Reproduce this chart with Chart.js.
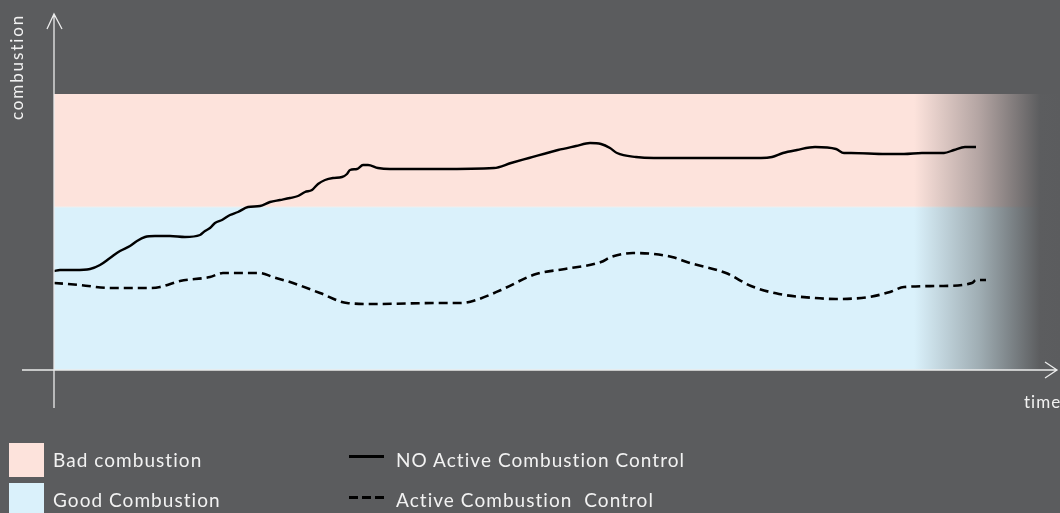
<!DOCTYPE html>
<html>
<head>
<meta charset="utf-8">
<script src="https://cdn.jsdelivr.net/npm/chart.js@4/dist/chart.umd.min.js"></script>
<style>
  html, body { margin: 0; padding: 0; background: #5b5c5e; }
  #wrap { position: relative; width: 1060px; height: 513px; overflow: hidden; background: #5b5c5e; font-family: "Lato", "Open Sans", sans-serif; color: #f2f2f2; }
  canvas { position: absolute; left: 0; top: 0; }
  .lbl { position: absolute; white-space: nowrap; font-size: 19px; line-height: 20px; letter-spacing: 1.05px; }
  .sw { position: absolute; width: 35px; height: 34px; }
  .ln { position: absolute; width: 35px; height: 3px; background: #000; }
</style>
</head>
<body>
<div id="wrap">
  <canvas id="c" width="1060" height="513"></canvas>
  <div class="lbl" id="ylab" style="left:-43px; top:57px; transform: rotate(-90deg); width:120px; text-align:center; font-size:17px; letter-spacing:1.9px;">combustion</div>
  <div class="lbl" style="left:1024px; top:392px; font-size:17px; letter-spacing:1px;">time</div>
  <div class="sw" style="left:9px; top:443px; background:#fde3dc;"></div>
  <div class="sw" style="left:9px; top:483px; height:40px; background:#daf1fb;"></div>
  <div class="lbl" style="left:53px; top:450px;">Bad combustion</div>
  <div class="lbl" style="left:53px; top:490px;">Good Combustion</div>
  <div class="ln" style="left:349px; top:455px;"></div>
  <div class="ln" style="left:349px; top:496px; background: repeating-linear-gradient(90deg, #000 0 9px, transparent 9px 13px);"></div>
  <div class="lbl" style="left:396px; top:450px;">NO Active Combustion Control</div>
  <div class="lbl" style="left:396px; top:490px;">Active Combustion&nbsp; Control</div>
</div>
<script>
// ---- Data (time in arbitrary units 0..1006, combustion in arbitrary units 0..355) ----
const bandTimes = [0, 1006];
const goodLimit = [163, 163];   // top of "Good combustion" zone
const badLimit = [276, 276];    // top of "Bad combustion" zone

const noControlTime = [0, 6, 21, 36, 46, 56, 66, 76, 83, 91, 101, 116, 131, 146, 151, 156, 161, 168, 176, 184, 194, 206, 216, 226, 236, 244, 251, 258, 264, 271, 279, 288, 293, 296, 303, 309, 314, 324, 336, 386, 440, 457, 475, 504, 522, 536, 547, 556, 563, 582, 600, 707, 718, 729, 743, 761, 782, 790, 797, 832, 850, 868, 890, 900, 911, 922];
const noControlValues = [99, 100, 100, 101, 105, 112, 119, 124, 129, 133, 134, 134, 133, 135, 139, 142, 147, 150, 155, 158, 163, 164, 168, 170, 172, 174, 178, 180, 186, 190, 192, 193, 196, 200, 201, 205, 205, 202, 201, 201, 202, 207, 212, 220, 224, 227, 226, 222, 217, 213, 212, 212, 213, 217, 220, 223, 221, 217, 217, 216, 216, 217, 217, 220, 223, 223];

const controlTime = [0, 26, 56, 96, 106, 126, 156, 169, 206, 219, 239, 266, 293, 319, 386, 407, 422, 447, 482, 511, 547, 557, 579, 600, 618, 636, 672, 697, 725, 761, 782, 815, 836, 850, 886, 918, 922, 932];
const controlValues = [87, 85, 82, 82, 83, 89, 93, 97, 97, 93, 87, 77, 67, 66, 67, 67, 70, 80, 96, 101, 108, 113, 117, 116, 113, 107, 97, 84, 76, 72, 71, 73, 78, 83, 84, 87, 90, 90];

function fadeGradient(ctx, color, mid) {
  const ch = ctx.chart; if (!ch.chartArea) return color;
  const xs = ch.scales.x;
  const g = ch.ctx.createLinearGradient(xs.getPixelForValue(0), 0, xs.getPixelForValue(1006), 0);
  g.addColorStop(0, color); g.addColorStop(0.855, color);
  g.addColorStop(0.92, mid); g.addColorStop(0.98, '#5c5d5f'); g.addColorStop(1, '#5b5c5e');
  return g;
}
const pinkFill = ctx => fadeGradient(ctx, '#fde3dc', '#b3a4a2');
const blueFill = ctx => fadeGradient(ctx, '#daf1fb', '#9fadb3');
const edgeLine = ctx => fadeGradient(ctx, '#eef0f0', '#a8a8a8');

const pts = (xs, ys) => xs.map((x, i) => ({ x: x, y: ys[i] }));

const axesPlugin = {
  id: 'arrowAxes',
  afterDatasetsDraw(chart) {
    const c = chart.ctx, xs = chart.scales.x, ys = chart.scales.y;
    const x0 = xs.getPixelForValue(0), y0 = ys.getPixelForValue(0);
    const yTop = ys.getPixelForValue(355) - 1;
    c.save();
    c.strokeStyle = '#ececec';
    c.lineWidth = 1.3;
    c.beginPath();
    c.moveTo(x0, 408); c.lineTo(x0, yTop);
    c.moveTo(x0 - 7, yTop + 15); c.lineTo(x0, yTop); c.lineTo(x0 + 8, yTop + 15);
    c.moveTo(22, y0); c.lineTo(1057, y0);
    c.moveTo(1045, y0 - 8); c.lineTo(1057, y0); c.lineTo(1045, y0 + 8);
    c.stroke();
    c.restore();
  }
};

new Chart(document.getElementById('c'), {
  type: 'line',
  data: {
    datasets: [
      { label: 'Good Combustion', data: pts(bandTimes, goodLimit), fill: 'origin', backgroundColor: blueFill,
        borderColor: edgeLine, borderWidth: 1, pointRadius: 0, order: 3 },
      { label: 'Bad combustion', data: pts(bandTimes, badLimit), fill: '-1', backgroundColor: pinkFill,
        borderWidth: 0, borderColor: 'rgba(0,0,0,0)', pointRadius: 0, order: 4 },
      { label: 'NO Active Combustion Control', data: pts(noControlTime, noControlValues), fill: false,
        borderColor: '#000', borderWidth: 2.4, pointRadius: 0, cubicInterpolationMode: 'monotone', order: 1 },
      { label: 'Active Combustion  Control', data: pts(controlTime, controlValues), fill: false,
        borderColor: '#000', borderWidth: 2.6, borderDash: [9, 5], pointRadius: 0, cubicInterpolationMode: 'monotone', order: 2 }
    ]
  },
  options: {
    responsive: false,
    animation: false,
    layout: { padding: { left: 54, right: 0, top: 15, bottom: 143 } },
    scales: {
      x: { type: 'linear', min: 0, max: 1006, display: false },
      y: { type: 'linear', min: 0, max: 355, display: false }
    },
    plugins: { legend: { display: false }, tooltip: { enabled: false } }
  },
  plugins: [axesPlugin]
});
</script>
</body>
</html>
